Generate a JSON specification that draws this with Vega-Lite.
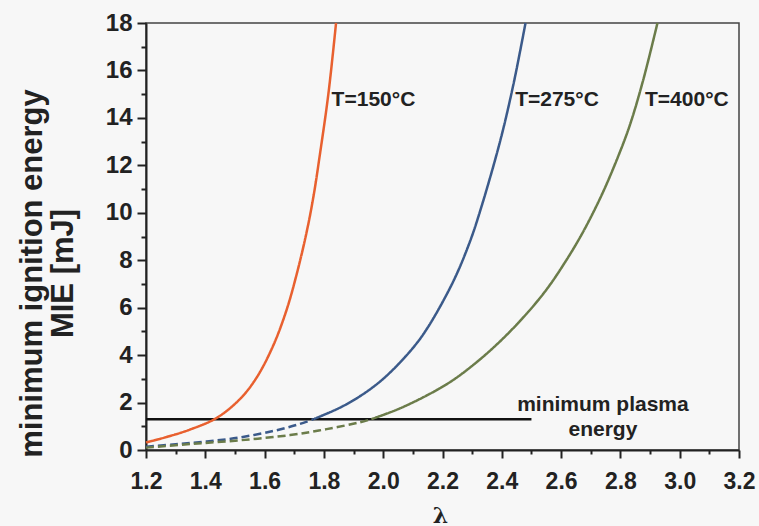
{
  "$schema": "https://vega.github.io/schema/vega-lite/v6.json",
  "width": 593,
  "height": 427,
  "autosize": "none",
  "padding": {"left": 146, "top": 23, "right": 20, "bottom": 76},
  "background": "#f7f7f7",
  "config": {
    "view": {"stroke": "#444", "strokeWidth": 1.5},
    "font": "Liberation Sans"
  },
  "resolve": {"axis": {"x": "independent", "y": "independent"}},
  "datasets": {
    "curves": [
      {"T": "150", "part": "solid", "lambda": 1.2, "mie": 0.32},
      {"T": "150", "part": "solid", "lambda": 1.27, "mie": 0.55},
      {"T": "150", "part": "solid", "lambda": 1.348, "mie": 0.86},
      {"T": "150", "part": "solid", "lambda": 1.438, "mie": 1.35},
      {"T": "150", "part": "solid", "lambda": 1.517, "mie": 2.15},
      {"T": "150", "part": "solid", "lambda": 1.573, "mie": 3.05},
      {"T": "150", "part": "solid", "lambda": 1.629, "mie": 4.4},
      {"T": "150", "part": "solid", "lambda": 1.674, "mie": 5.9},
      {"T": "150", "part": "solid", "lambda": 1.708, "mie": 7.4},
      {"T": "150", "part": "solid", "lambda": 1.742, "mie": 9.2},
      {"T": "150", "part": "solid", "lambda": 1.765, "mie": 10.7},
      {"T": "150", "part": "solid", "lambda": 1.787, "mie": 12.5},
      {"T": "150", "part": "solid", "lambda": 1.815, "mie": 15.0},
      {"T": "150", "part": "solid", "lambda": 1.841, "mie": 18.0},

      {"T": "275", "part": "dashed", "lambda": 1.2, "mie": 0.14},
      {"T": "275", "part": "dashed", "lambda": 1.3, "mie": 0.24},
      {"T": "275", "part": "dashed", "lambda": 1.405, "mie": 0.36},
      {"T": "275", "part": "dashed", "lambda": 1.517, "mie": 0.53},
      {"T": "275", "part": "dashed", "lambda": 1.629, "mie": 0.8},
      {"T": "275", "part": "dashed", "lambda": 1.719, "mie": 1.1},
      {"T": "275", "part": "dashed", "lambda": 1.765, "mie": 1.3},
      {"T": "275", "part": "solid", "lambda": 1.765, "mie": 1.3},
      {"T": "275", "part": "solid", "lambda": 1.85, "mie": 1.76},
      {"T": "275", "part": "solid", "lambda": 1.922, "mie": 2.27},
      {"T": "275", "part": "solid", "lambda": 2.0, "mie": 3.0},
      {"T": "275", "part": "solid", "lambda": 2.09, "mie": 4.15},
      {"T": "275", "part": "solid", "lambda": 2.147, "mie": 5.1},
      {"T": "275", "part": "solid", "lambda": 2.236, "mie": 7.1},
      {"T": "275", "part": "solid", "lambda": 2.293, "mie": 8.8},
      {"T": "275", "part": "solid", "lambda": 2.33, "mie": 10.2},
      {"T": "275", "part": "solid", "lambda": 2.394, "mie": 13.0},
      {"T": "275", "part": "solid", "lambda": 2.439, "mie": 15.4},
      {"T": "275", "part": "solid", "lambda": 2.48, "mie": 18.0},

      {"T": "400", "part": "dashed", "lambda": 1.2, "mie": 0.1},
      {"T": "400", "part": "dashed", "lambda": 1.35, "mie": 0.25},
      {"T": "400", "part": "dashed", "lambda": 1.517, "mie": 0.41},
      {"T": "400", "part": "dashed", "lambda": 1.686, "mie": 0.63},
      {"T": "400", "part": "dashed", "lambda": 1.809, "mie": 0.88},
      {"T": "400", "part": "dashed", "lambda": 1.922, "mie": 1.17},
      {"T": "400", "part": "dashed", "lambda": 1.96, "mie": 1.3},
      {"T": "400", "part": "solid", "lambda": 1.96, "mie": 1.3},
      {"T": "400", "part": "solid", "lambda": 2.05, "mie": 1.72},
      {"T": "400", "part": "solid", "lambda": 2.147, "mie": 2.3},
      {"T": "400", "part": "solid", "lambda": 2.23, "mie": 2.9},
      {"T": "400", "part": "solid", "lambda": 2.315, "mie": 3.7},
      {"T": "400", "part": "solid", "lambda": 2.4, "mie": 4.65},
      {"T": "400", "part": "solid", "lambda": 2.484, "mie": 5.75},
      {"T": "400", "part": "solid", "lambda": 2.55, "mie": 6.75},
      {"T": "400", "part": "solid", "lambda": 2.61, "mie": 7.85},
      {"T": "400", "part": "solid", "lambda": 2.67, "mie": 9.1},
      {"T": "400", "part": "solid", "lambda": 2.735, "mie": 10.7},
      {"T": "400", "part": "solid", "lambda": 2.79, "mie": 12.3},
      {"T": "400", "part": "solid", "lambda": 2.832, "mie": 13.7},
      {"T": "400", "part": "solid", "lambda": 2.877, "mie": 15.6},
      {"T": "400", "part": "solid", "lambda": 2.925, "mie": 18.0}
    ],
    "plasma": [
      {"lambda": 1.2, "mie": 1.3},
      {"lambda": 2.5, "mie": 1.3}
    ],
    "labels": [
      {"lambda": 1.826, "mie": 14.76, "text": "T=150°C"},
      {"lambda": 2.445, "mie": 14.76, "text": "T=275°C"},
      {"lambda": 2.883, "mie": 14.76, "text": "T=400°C"}
    ],
    "plasmaLabel": [
      {"lambda": 2.741, "mie": 1.9, "text": "minimum plasma"},
      {"lambda": 2.741, "mie": 0.84, "text": "energy"}
    ]
  },
  "layer": [
    {
      "data": {"name": "plasma"},
      "mark": {"type": "line", "color": "#111", "strokeWidth": 2.5},
      "encoding": {
        "x": {
          "field": "lambda", "type": "quantitative",
          "scale": {"domain": [1.2, 3.2], "nice": false, "zero": false},
          "axis": {
            "orient": "bottom",
            "values": [1.2,1.4,1.6,1.8,2.0,2.2,2.4,2.6,2.8,3.0,3.2],
            "format": ".1f",
            "tickSize": 8,
            "grid": false,
            "domainColor": "#222", "domainWidth": 2,
            "tickColor": "#222", "tickWidth": 2,
            "labelFont": "Liberation Sans", "labelFontWeight": "bold", "labelFontSize": 23,
            "labelColor": "#222", "labelPadding": 12, "labelFlush": false, "labelOverlap": false,
            "title": "λ", "titleFont": "DejaVu Serif", "titleFontSize": 22, "titleFontWeight": "bold",
            "titleColor": "#222", "titleX": 294, "titleY": 72, "titleBaseline": "alphabetic"
          }
        },
        "y": {
          "field": "mie", "type": "quantitative",
          "scale": {"domain": [0, 18], "nice": false},
          "axis": {
            "orient": "left",
            "values": [0,2,4,6,8,10,12,14,16,18],
            "tickSize": 9,
            "grid": false,
            "domainColor": "#222", "domainWidth": 2,
            "tickColor": "#222", "tickWidth": 2,
            "labelFont": "Liberation Sans", "labelFontWeight": "bold", "labelFontSize": 24,
            "labelColor": "#222", "labelPadding": 5, "labelFlush": false, "labelOverlap": false,
            "title": ["minimum ignition energy", "MIE [mJ]"],
            "titleFont": "Liberation Sans", "titleFontSize": 31, "titleFontWeight": "bold",
            "titleColor": "#222", "titleLineHeight": 31, "titleBaseline": "middle",
            "titleX": -114, "titleY": 250, "titleAngle": -90, "titleAlign": "center"
          }
        }
      }
    },
    {
      "data": {"name": "curves"},
      "mark": {"type": "line", "strokeWidth": 2.5, "interpolate": "catmull-rom"},
      "encoding": {
        "x": {
          "field": "lambda", "type": "quantitative",
          "axis": {
            "orient": "bottom",
            "values": [1.3,1.5,1.7,1.9,2.1,2.3,2.5,2.7,2.9,3.1],
            "tickSize": 4, "tickWidth": 2, "tickColor": "#222",
            "labels": false, "domain": false, "grid": false, "title": null
          }
        },
        "y": {
          "field": "mie", "type": "quantitative",
          "axis": {
            "orient": "left",
            "values": [1,3,5,7,9,11,13,15,17],
            "tickSize": 5, "tickWidth": 2, "tickColor": "#222",
            "labels": false, "domain": false, "grid": false, "title": null
          }
        },
        "color": {
          "field": "T", "type": "nominal",
          "scale": {"domain": ["150", "275", "400"], "range": ["#e8602f", "#3b5a8a", "#6b7c4a"]},
          "legend": null
        },
        "strokeDash": {
          "field": "part", "type": "nominal",
          "scale": {"domain": ["solid", "dashed"], "range": [[1, 0], [8, 4]]},
          "legend": null
        },
        "detail": {"field": "part"}
      }
    },
    {
      "data": {"name": "labels"},
      "mark": {"type": "text", "align": "left", "baseline": "middle", "font": "Liberation Sans", "fontWeight": "bold", "fontSize": 21, "color": "#222"},
      "encoding": {
        "x": {"field": "lambda", "type": "quantitative", "axis": null},
        "y": {"field": "mie", "type": "quantitative", "axis": null},
        "text": {"field": "text"}
      }
    },
    {
      "data": {"name": "plasmaLabel"},
      "mark": {"type": "text", "align": "center", "baseline": "middle", "font": "Liberation Sans", "fontWeight": "bold", "fontSize": 21, "color": "#222"},
      "encoding": {
        "x": {"field": "lambda", "type": "quantitative", "axis": null},
        "y": {"field": "mie", "type": "quantitative", "axis": null},
        "text": {"field": "text"}
      }
    }
  ]
}
